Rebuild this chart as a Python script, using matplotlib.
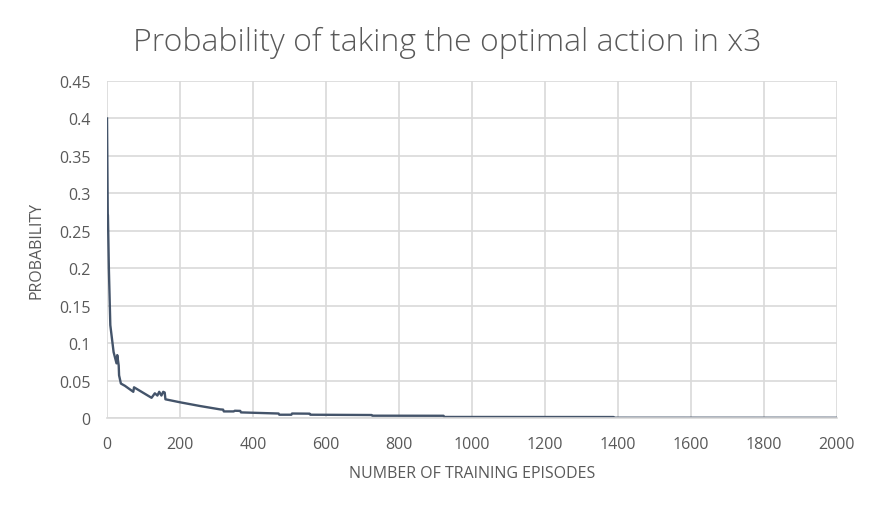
import matplotlib.pyplot as plt
from matplotlib.ticker import FuncFormatter

episodes = [0, 2, 2.5, 5, 9, 13, 18, 26, 28, 32, 33, 38, 49, 72, 74, 122, 131, 138,
            143, 149, 154, 158, 160, 200, 255, 310, 318, 320, 347, 350, 365, 367,
            429, 470, 472, 505, 507, 555, 557, 725, 727, 922, 924, 1388, 1390, 2000]
prob = [0.40, 0.273, 0.27, 0.20, 0.124, 0.108, 0.088, 0.073, 0.084, 0.07, 0.057,
        0.046, 0.043, 0.035, 0.041, 0.027, 0.033, 0.030, 0.035, 0.030, 0.035, 0.034,
        0.025, 0.021, 0.016, 0.0115, 0.0112, 0.0088, 0.0088, 0.0097, 0.0095, 0.0075,
        0.0066, 0.0060, 0.0044, 0.0044, 0.0060, 0.0058, 0.0044, 0.0040, 0.0031,
        0.0030, 0.0014, 0.0013, 0.0004, 0.0003]

plt.rcParams['font.family'] = ['Open Sans', 'DejaVu Sans']
txt = '#595959'

fig = plt.figure(figsize=(8.78, 5.10), dpi=100)
ax = fig.add_axes([0.1219, 0.1784, 0.8314, 0.6608])
ax.plot(episodes, prob, color='#44546A', lw=1.7)

ax.set_xlim(0, 2000)
ax.set_ylim(0, 0.45)
ax.set_xticks(range(0, 2001, 200))
ax.set_yticks([i * 0.05 for i in range(10)])
ax.yaxis.set_major_formatter(FuncFormatter(lambda v, p: '{:g}'.format(round(v, 2))))
ax.grid(True, color='#D9D9D9', lw=1.2)
ax.set_axisbelow(True)
for s in ['top', 'right', 'left']:
    ax.spines[s].set_visible(False)
ax.spines['bottom'].set_color('#D9D9D9')
ax.spines['bottom'].set_linewidth(1.2)
ax.tick_params(length=0, labelsize=11.5, colors=txt)
ax.tick_params(axis='x', pad=13)
ax.tick_params(axis='y', pad=12)

ax.set_xlabel('NUMBER OF TRAINING EPISODES', fontsize=11.5, color=txt, labelpad=9)
ax.set_ylabel('PROBABILITY', fontsize=11.5, color=txt, labelpad=10)
fig.text(0.509, 0.915, 'Probability of taking the optimal action in x3', ha='center',
         va='center', fontsize=23, color=txt, fontweight='light')

fig.savefig('out.png', dpi=100)
